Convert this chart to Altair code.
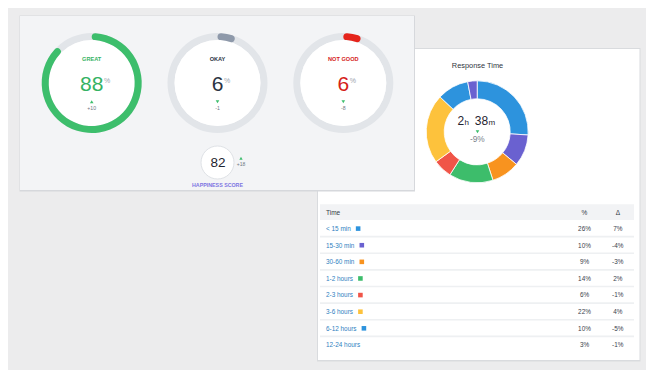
import math
import altair as alt
import pandas as pd

# ---------------- data ----------------
moods = ["GREAT", "OKAY", "NOT GOOD"]
mood_pct = [88, 6, 6]
mood_delta = ["+10", "-1", "-8"]
mood_dir = ["up", "down", "down"]

happiness_score = "82"
happiness_delta = "+18"
happiness_dir = "up"

resp_labels = ["< 15 min", "15-30 min", "30-60 min", "1-2 hours",
               "2-3 hours", "3-6 hours", "6-12 hours", "12-24 hours"]
resp_pct = [26, 10, 9, 14, 6, 22, 10, 3]
resp_delta = ["7%", "-4%", "-3%", "2%", "-1%", "4%", "-5%", "-1%"]
resp_has_swatch = [True, True, True, True, True, True, True, False]

avg_hours = "2"
avg_minutes = "38"
avg_delta = "-9%"
avg_dir = "down"

# ---------------- styles ----------------
palette = ["#2d93dd", "#6a61d0", "#f8931f", "#3dbd6b",
           "#f05548", "#fdc23c", "#2d93dd", "#6a61d0"]
mood_colors = ["#3dbe6c", "#8e99aa", "#e5241b"]
mood_text_colors = ["#34b263", "#2a3342", "#d5221a"]
GREEN = "#3dbe6c"
FONT = "Helvetica Neue, Helvetica, Liberation Sans, Arial, sans-serif"

W, H = 638, 362
sx = alt.Scale(domain=[8, 8 + W], nice=False, zero=False)
sy = alt.Scale(domain=[8, 8 + H], nice=False, zero=False, reverse=True)
stheta = alt.Scale(domain=[0, 100], range=[0, 2 * math.pi])
sshape = alt.Scale(domain=["up", "down"], range=["triangle-up", "triangle-down"])


def X(f="x"):
    return alt.X(f"{f}:Q", scale=sx, axis=None)


def Y(f="y"):
    return alt.Y(f"{f}:Q", scale=sy, axis=None)


def rect(x, x2, y, y2, color, **kw):
    df = pd.DataFrame({"x": [x], "x2": [x2], "y": [y], "y2": [y2]})
    return alt.Chart(df).mark_rect(color=color, **kw).encode(
        x=X("x"), x2=alt.X2("x2"), y=Y("y"), y2=alt.Y2("y2"))


def text(df, size, color, weight="normal", align="center", baseline="alphabetic"):
    return alt.Chart(df).mark_text(
        fontSize=size, color=color, fontWeight=weight, align=align,
        baseline=baseline, font=FONT).encode(x=X(), y=Y(), text="t:N")


def tri(df, size=13):
    return alt.Chart(df).mark_point(filled=True, size=size, color=GREEN, opacity=1, strokeWidth=0).encode(
        x=X(), y=Y(), shape=alt.Shape("dir:N", scale=sshape, legend=None))


def arc(df, r, r2, color=None, **kw):
    enc = dict(x=X("cx"), y=Y("cy"),
               theta=alt.Theta("start:Q", scale=stheta, stack=None),
               theta2=alt.Theta2("end:Q"))
    if color is None:
        m = alt.Chart(df).mark_arc(radius=r, radius2=r2, **kw)
        enc["color"] = alt.Color("label:N", scale=alt.Scale(domain=resp_labels, range=palette), legend=None)
    else:
        m = alt.Chart(df).mark_arc(radius=r, radius2=r2, color=color, **kw)
    return m.encode(**enc)


CW = {" ": .278, "<": .584, "-": .333, "m": .833, "i": .222, "n": .556, "h": .556,
      "o": .556, "u": .556, "r": .333, "s": .5}


def text_width(s, size):
    return sum(CW.get(c, .556) for c in s) * size


layers = []

# panels
layers.append(rect(317, 640.5, 48, 361.5, "#d9dbde"))
layers.append(rect(318, 639.5, 49, 360, "#ffffff"))
layers.append(rect(19.5, 415, 15.5, 191.5, "#d6d8dc"))
layers.append(rect(20, 414, 16, 190, "#f3f4f6"))

# ---------------- gauges ----------------
for i, (m, p, d, dr) in enumerate(zip(moods, mood_pct, mood_delta, mood_dir)):
    cx = 91.7 + 125.8 * i
    full = pd.DataFrame({"cx": [cx], "cy": [83], "start": [0], "end": [100]})
    prog = pd.DataFrame({"cx": [cx], "cy": [83], "start": [0], "end": [p]})
    layers.append(arc(full, 50, 43, "#e2e5e9"))
    layers.append(arc(full, 43, 0, "#ffffff"))
    layers.append(arc(prog, 50, 43, mood_colors[i], cornerRadius=3.5))
    layers.append(text(pd.DataFrame({"x": [cx], "y": [61], "t": [m]}), 5.6, mood_text_colors[i], "bold"))
    num = str(p)
    layers.append(text(pd.DataFrame({"x": [cx], "y": [90.5], "t": [num]}), 21, mood_text_colors[i]))
    px = cx + text_width(num, 21) / 2 + 0.6
    layers.append(text(pd.DataFrame({"x": [px], "y": [83], "t": ["%"]}), 7, "#9aa2ac", align="left"))
    layers.append(tri(pd.DataFrame({"x": [cx], "y": [101.8], "dir": [dr]})))
    layers.append(text(pd.DataFrame({"x": [cx], "y": [110], "t": [d]}), 5.2, "#6f7882"))

# happiness score
hs = pd.DataFrame({"cx": [217.5], "cy": [162.5], "start": [0], "end": [100]})
layers.append(arc(hs, 16.5, 0, "#ffffff", stroke="#dfe2e6", strokeWidth=1))
layers.append(text(pd.DataFrame({"x": [218], "y": [167.3], "t": [happiness_score]}), 13.5, "#1f2430"))
layers.append(tri(pd.DataFrame({"x": [241], "y": [158.3], "dir": [happiness_dir]}), 11))
layers.append(text(pd.DataFrame({"x": [241], "y": [166.3], "t": [happiness_delta]}), 5, "#6f7882"))
layers.append(text(pd.DataFrame({"x": [217.5], "y": [187.2], "t": ["HAPPINESS SCORE"]}), 5.3, "#7d74e2", "bold"))

# ---------------- response time donut ----------------
layers.append(text(pd.DataFrame({"x": [477.5], "y": [67.6], "t": ["Response Time"]}), 7.4, "#2f3540"))
dn = pd.DataFrame({"label": resp_labels, "pct": resp_pct})
dn["end"] = dn["pct"].cumsum()
dn["start"] = dn["end"] - dn["pct"]
dn["cx"] = 477.2
dn["cy"] = 131.8
layers.append(arc(dn, 51, 33, None, stroke="#ffffff", strokeWidth=0.8))

layers.append(text(pd.DataFrame({"x": [464.2], "y": [125], "t": [avg_hours]}), 12, "#1f2430", align="right"))
layers.append(text(pd.DataFrame({"x": [464.6], "y": [125], "t": ["h"]}), 8, "#1f2430", align="left"))
layers.append(text(pd.DataFrame({"x": [488.2], "y": [125], "t": [avg_minutes]}), 12, "#1f2430", align="right"))
layers.append(text(pd.DataFrame({"x": [488.6], "y": [125], "t": ["m"]}), 8, "#1f2430", align="left"))
layers.append(tri(pd.DataFrame({"x": [477.5], "y": [131.8], "dir": [avg_dir]}), 13))
layers.append(text(pd.DataFrame({"x": [477.3], "y": [142], "t": [avg_delta]}), 8.3, "#7a828c"))

# ---------------- table ----------------
layers.append(rect(320, 634, 204.3, 220, "#f2f3f5"))
layers.append(text(pd.DataFrame({"x": [326], "y": [214.5], "t": ["Time"]}), 6.5, "#333a44", align="left"))
layers.append(text(pd.DataFrame({"x": [584.5, 617.8], "y": [214.5, 214.5], "t": ["%", "Δ"]}), 6.5, "#333a44"))

pitch = 16.62
tb = pd.DataFrame({"label": resp_labels, "pct": resp_pct, "delta": resp_delta, "sw": resp_has_swatch})
tb["yc"] = [228.6 + pitch * i for i in range(len(tb))]
sep = pd.DataFrame({"x": [320] * 7, "x2": [634] * 7, "y": [220 + pitch * (i + 1) for i in range(7)]})
layers.append(alt.Chart(sep).mark_rule(color="#eef0f2", strokeWidth=1.6).encode(
    x=X("x"), x2=alt.X2("x2"), y=Y("y")))

lab = pd.DataFrame({"x": 326, "y": tb["yc"] + 2.3, "t": tb["label"]})
layers.append(text(lab, 6.4, "#2f7fc1", align="left"))
pcts = pd.DataFrame({"x": 584.5, "y": tb["yc"] + 2.3, "t": [f"{v}%" for v in tb["pct"]]})
layers.append(text(pcts, 6.4, "#3a414b"))
dl = pd.DataFrame({"x": 617.8, "y": tb["yc"] + 2.3, "t": tb["delta"]})
layers.append(text(dl, 6.4, "#3a414b"))

sq = tb[tb["sw"]].copy()
sq["x"] = [326 + text_width(s, 6.3) + 7.8 for s in sq["label"]]
sq["y"] = sq["yc"]
layers.append(alt.Chart(sq).mark_square(size=21, opacity=1, strokeWidth=0).encode(
    x=X(), y=Y(),
    color=alt.Color("label:N", scale=alt.Scale(domain=resp_labels, range=palette), legend=None)))

chart = alt.layer(*layers).properties(
    width=W, height=H, padding=0, autosize="none", background="#ececed"
).configure_view(stroke=None)

chart.save("out.html", embed_options={"renderer": "svg", "actions": False})
